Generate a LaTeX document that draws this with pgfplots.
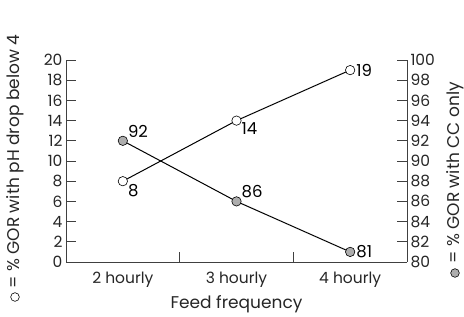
\documentclass[border=0pt]{standalone}
\usepackage{fontspec}
\setmainfont{Poppins}
\usepackage{pgfplots}
\pgfplotsset{compat=1.18}
\definecolor{mgrey}{gray}{0.68}
\definecolor{axgrey}{gray}{0.25}
\begin{document}
\begin{tikzpicture}[x=1pt,y=1pt]
\pgfplotsset{
  common/.style={
    scale only axis, width=341pt, height=202pt,
    xmin=-0.5, xmax=2.5,
    tick align=inside,
    major tick length=10pt, minor tick length=10pt,
    every tick/.style={axgrey, line width=0.8pt},
    axis line style={axgrey, line width=0.8pt},
    tick label style={font=\fontsize{15.5}{17}\selectfont, text=black!85},
    /pgf/number format/assume math mode=true,
    clip=false,
  }
}
\begin{axis}[common,
  ymin=0, ymax=20, ytick={0,2,...,20},
  axis x line*=bottom, axis y line*=left,
  xtick={0,1,2}, xticklabels={2 hourly,3 hourly,4 hourly},
  minor xtick={0.5,1.5},
  major x tick style={draw=none},
  x tick label style={yshift=-6pt},
  xlabel={Feed frequency},
  xlabel style={font=\fontsize{17}{19}\selectfont, text=black!85, yshift=-2pt},
]
\addplot[black, line width=1pt, mark=*, mark size=4.7pt,
  mark options={fill=white, draw=black, line width=0.6pt}]
  coordinates {(0,8) (1,14) (2,19)};
\node[anchor=north west, inner sep=0pt, font=\fontsize{16.5}{18}\selectfont] at ([xshift=5pt,yshift=-3pt]axis cs:0,8) {8};
\node[anchor=north west, inner sep=0pt, font=\fontsize{16.5}{18}\selectfont] at ([xshift=5pt,yshift=-2pt]axis cs:1,14) {14};
\node[anchor=west, inner sep=0pt, font=\fontsize{16.5}{18}\selectfont] at ([xshift=6pt]axis cs:2,19) {19};
\end{axis}
\begin{axis}[common,
  ymin=80, ymax=100, ytick={80,82,...,100},
  axis x line=none, axis y line*=right,
]
\addplot[black, line width=1pt, mark=*, mark size=4.7pt,
  mark options={fill=mgrey, draw=black, line width=0.6pt}]
  coordinates {(0,92) (1,86) (2,81)};
\node[anchor=south west, inner sep=0pt, font=\fontsize{16.5}{18}\selectfont] at ([xshift=5pt,yshift=3pt]axis cs:0,92) {92};
\node[anchor=south west, inner sep=0pt, font=\fontsize{16.5}{18}\selectfont] at ([xshift=5pt,yshift=3pt]axis cs:1,86) {86};
\node[anchor=west, inner sep=0pt, font=\fontsize{16.5}{18}\selectfont] at ([xshift=6pt]axis cs:2,81) {81};
\end{axis}
% left legend-label
\draw[black, line width=0.6pt, fill=white] (-51pt,-35pt) circle (4.3pt);
\node[rotate=90, anchor=west, inner sep=0pt, font=\fontsize{17}{19}\selectfont, text=black!85] at (-51pt,-27pt) {= \% GOR with pH drop below 4};
% right legend-label
\draw[black, line width=0.6pt, fill=mgrey] (389pt,-11pt) circle (4.3pt);
\node[rotate=90, anchor=west, inner sep=0pt, font=\fontsize{17}{19}\selectfont, text=black!85] at (389pt,-2pt) {= \% GOR with CC only};
\path[use as bounding box] (-66pt,-54pt) rectangle (398pt,262pt);
\end{tikzpicture}
\end{document}
